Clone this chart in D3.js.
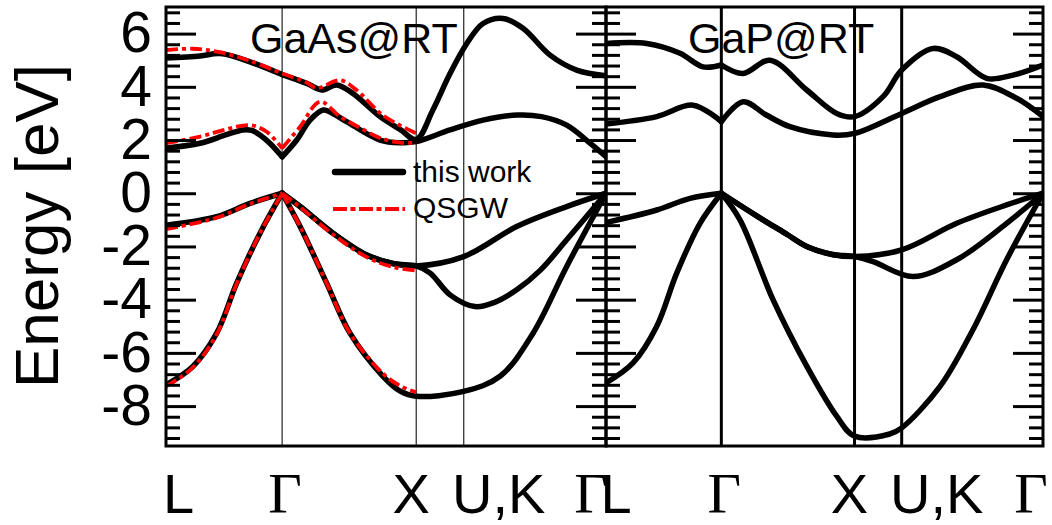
<!DOCTYPE html>
<html>
<head>
<meta charset="utf-8">
<script src="https://cdn.jsdelivr.net/npm/d3@7"></script>
<style>
  body { margin: 0; background: #fff; }
  svg { display: block; }
</style>
</head>
<body>
<svg id="chart" width="1052" height="525"></svg>
<script>
// k-path through the fcc Brillouin zone, in units of 2π/a
const kPoints = [0, 0.866, 1.866, 2.220, 3.281];
const kLabels = ["L", "Γ", "X", "U,K", "Γ"];
const energyTicks = [-8, -6, -4, -2, 0, 2, 4, 6];
const panelTitles = ["GaAs@RT", "GaP@RT"];
const legendLabels = ["this work", "QSGW"];

// GaAs, this work: [k, E (eV)]
const gaasC2 = [[0,5.08],[0.254,5.16],[0.403,5.25],[0.626,4.94],[0.866,4.46],[1.049,4.13],[1.161,3.88],[1.273,4.07],[1.394,3.75],[1.596,2.88],[1.745,2.40],[1.866,2.02],[1.99,3.13],[2.118,4.50],[2.242,5.62],[2.364,6.38],[2.513,6.57],[2.662,6.20],[2.864,5.19],[3.062,4.63],[3.281,4.42]];
const gaasC1 = [[0,1.70],[0.254,1.88],[0.45,2.20],[0.574,2.38],[0.64,2.36],[0.701,2.19],[0.78,1.85],[0.866,1.37],[0.975,2.00],[1.074,2.75],[1.173,3.13],[1.25,2.98],[1.347,2.69],[1.596,2.00],[1.75,1.90],[1.866,1.94],[2.118,2.38],[2.364,2.75],[2.62,2.94],[2.80,2.88],[2.988,2.56],[3.162,1.88],[3.281,1.37]];
const gaasV1 = [[0,-1.20],[0.378,-0.88],[0.626,-0.38],[0.866,0],[1.0,-0.50],[1.245,-1.50],[1.497,-2.32],[1.70,-2.65],[1.866,-2.73],[2.22,-2.38],[2.615,-1.25],[2.988,-0.50],[3.281,0]];
const gaasV2 = [[0.866,0],[1.0,-0.50],[1.245,-1.50],[1.497,-2.32],[1.70,-2.65],[1.866,-2.73],[1.97,-3.00],[2.118,-3.82],[2.304,-4.26],[2.45,-4.10],[2.615,-3.63],[2.79,-2.90],[2.988,-1.75],[3.281,0]];
const gaasV3 = [[0,-7.20],[0.20,-6.51],[0.378,-5.26],[0.527,-3.38],[0.701,-1.50],[0.866,0],[1.0,-1.25],[1.198,-3.38],[1.372,-5.26],[1.618,-6.88],[1.75,-7.45],[1.866,-7.63],[2.22,-7.45],[2.491,-6.88],[2.737,-5.26],[2.988,-2.75],[3.281,0]];

// GaAs, QSGW reference (L-Γ-X only)
const qsgwC2 = [[0,5.38],[0.20,5.43],[0.40,5.30],[0.63,4.97],[0.866,4.50],[1.05,4.16],[1.124,3.95],[1.298,4.25],[1.42,3.88],[1.62,2.92],[1.866,2.25]];
const qsgwC1 = [[0,1.88],[0.254,2.13],[0.45,2.40],[0.626,2.56],[0.751,2.31],[0.866,1.69],[1.0,2.50],[1.148,3.44],[1.298,2.88],[1.45,2.45],[1.60,2.07],[1.75,1.90],[1.866,1.90]];
const qsgwV1 = [[0,-1.35],[0.378,-0.92],[0.626,-0.40],[0.866,0],[1.0,-0.52],[1.245,-1.55],[1.497,-2.40],[1.70,-2.78],[1.866,-2.90]];
const qsgwV3 = [[0,-7.26],[0.20,-6.55],[0.378,-5.30],[0.527,-3.40],[0.701,-1.50],[0.866,0],[1.0,-1.25],[1.198,-3.38],[1.372,-5.26],[1.618,-6.78],[1.75,-7.25],[1.866,-7.48]];

// GaP, this work
const gapC2 = [[0,5.63],[0.306,5.63],[0.556,5.26],[0.728,4.75],[0.866,4.82],[1.029,4.50],[1.231,5.00],[1.507,3.88],[1.732,3.00],[1.866,2.88],[2.08,3.63],[2.22,4.63],[2.455,5.44],[2.633,5.13],[2.858,4.32],[3.056,4.44],[3.281,4.82]];
const gapC1 = [[0,2.60],[0.381,2.88],[0.653,3.31],[0.866,2.69],[1.029,3.44],[1.20,2.95],[1.381,2.50],[1.704,2.19],[1.866,2.25],[2.22,3.00],[2.508,3.63],[2.83,4.07],[3.086,3.56],[3.281,2.88]];
const gapV1 = [[0,-1.10],[0.381,-0.63],[0.631,-0.19],[0.866,0],[1.131,-0.85],[1.36,-1.55],[1.507,-2.00],[1.70,-2.30],[1.866,-2.38],[2.22,-2.13],[2.633,-1.13],[3.008,-0.44],[3.281,0]];
const gapV2 = [[0.866,0],[1.131,-0.85],[1.36,-1.55],[1.507,-2.00],[1.70,-2.30],[1.866,-2.38],[2.005,-2.57],[2.305,-3.13],[2.633,-2.50],[3.008,-1.13],[3.281,0]];
const gapV3 = [[0,-7.13],[0.203,-6.38],[0.381,-5.00],[0.531,-3.00],[0.706,-1.13],[0.866,0],[1.006,-1.00],[1.254,-4.00],[1.507,-6.50],[1.732,-8.38],[1.866,-9.13],[2.13,-9.05],[2.22,-8.82],[2.508,-7.26],[2.755,-5.13],[3.008,-2.50],[3.281,0]];

const sans = "'Liberation Sans', Arial, Helvetica, sans-serif";
const serif = "'Liberation Serif', 'Times New Roman', serif";

const svg = d3.select("#chart");
const y = d3.scaleLinear().domain([-9.5, 7]).range([446, 7]);

const panels = [
  { x0: 166, x1: 606, title: panelTitles[0], titleX: 250,
    bands: [gaasC2, gaasC1, gaasV1, gaasV2, gaasV3],
    ref: [qsgwC2, qsgwC1, qsgwV1, qsgwV3],
    kLine: { color: "#333", width: 1.3 }, labelDx: [12.5, 3, -5, 35, -15] },
  { x0: 606, x1: 1043, title: panelTitles[1], titleX: 688,
    bands: [gapC2, gapC1, gapV1, gapV2, gapV3],
    ref: [],
    kLine: { color: "#000", width: 3 }, labelDx: [10, 3, -5, 35, -12] }
];

// minor ticks every 0.4 eV, majors every 2 eV
const minorTicks = d3.range(-23, 18).map(i => +(i * 0.4).toFixed(1))
  .filter(v => Math.abs(v / 2 - Math.round(v / 2)) > 1e-6);

// a band is drawn as two pieces joined at Γ so the cusps stay sharp
function pieces(band) {
  const g = kPoints[1];
  const a = band.filter(d => d[0] <= g + 1e-9);
  const b = band.filter(d => d[0] >= g - 1e-9);
  return [a, b].filter(p => p.length > 1);
}

panels.forEach((p, i) => {
  const x = d3.scaleLinear().domain([kPoints[0], kPoints[4]]).range([p.x0, p.x1]);
  const g = svg.append("g");

  const clipId = "clip" + i;
  svg.append("clipPath").attr("id", clipId)
    .append("rect").attr("x", p.x0).attr("y", y(7)).attr("width", p.x1 - p.x0).attr("height", y(-9.5) - y(7));

  // high-symmetry lines
  g.selectAll("line.kline").data(kPoints.slice(1, 4)).join("line")
    .attr("x1", d => x(d)).attr("x2", d => x(d))
    .attr("y1", y(7)).attr("y2", y(-9.5))
    .attr("stroke", p.kLine.color).attr("stroke-width", p.kLine.width);

  const line = d3.line().x(d => x(d[0])).y(d => y(d[1])).curve(d3.curveCatmullRom.alpha(0.5));
  const plot = g.append("g").attr("clip-path", `url(#${clipId})`);

  p.bands.forEach(b => {
    pieces(b).forEach(seg => {
      plot.append("path").attr("d", line(seg))
        .attr("fill", "none").attr("stroke", "#000").attr("stroke-width", 5.5)
        .attr("stroke-linecap", "round").attr("stroke-linejoin", "round");
    });
  });
  p.ref.forEach(b => {
    pieces(b).forEach(seg => {
      plot.append("path").attr("d", line(seg))
        .attr("fill", "none").attr("stroke", "#ff0000").attr("stroke-width", 3.8)
        .attr("stroke-dasharray", "12,4,4,4");
    });
  });

  // frame
  g.append("rect").attr("x", p.x0).attr("y", y(7)).attr("width", p.x1 - p.x0).attr("height", y(-9.5) - y(7))
    .attr("fill", "none").attr("stroke", "#000").attr("stroke-width", 3);

  // inward ticks on both vertical edges
  const leftMajor = d3.axisLeft(y).tickValues(energyTicks).tickSize(-30).tickPadding(14)
    .tickFormat(i === 0 ? (d => String(d)) : () => "");
  const leftMinor = d3.axisLeft(y).tickValues(minorTicks).tickSize(-14).tickFormat(() => "");
  const rightMajor = d3.axisRight(y).tickValues(energyTicks).tickSize(-30).tickFormat(() => "");
  const rightMinor = d3.axisRight(y).tickValues(minorTicks).tickSize(-14).tickFormat(() => "");

  [[leftMajor, p.x0], [leftMinor, p.x0], [rightMajor, p.x1], [rightMinor, p.x1]].forEach(([ax, xx]) => {
    const a = g.append("g").attr("transform", `translate(${xx},0)`).call(ax);
    a.select(".domain").remove();
    a.selectAll(".tick line").attr("stroke", "#000").attr("stroke-width", 3);
    a.selectAll(".tick text").attr("font-family", sans).attr("font-size", 57).attr("fill", "#000");
  });

  // panel title
  g.append("text").attr("x", p.titleX).attr("y", 53)
    .attr("font-family", sans).attr("font-size", 43).attr("fill", "#000").text(p.title);

  // k-point labels
  g.selectAll("text.klabel").data(kLabels).join("text")
    .attr("x", (d, j) => x(kPoints[j]) + p.labelDx[j]).attr("y", 513)
    .attr("text-anchor", "middle")
    .attr("font-family", d => d === "Γ" ? serif : sans)
    .attr("font-size", d => d === "Γ" ? 58 : 56)
    .attr("fill", "#000").text(d => d);
});

// legend
const leg = svg.append("g");
leg.append("line").attr("x1", 335).attr("x2", 403).attr("y1", 172).attr("y2", 172)
  .attr("stroke", "#000").attr("stroke-width", 6.5).attr("stroke-linecap", "round");
leg.append("line").attr("x1", 333).attr("x2", 405).attr("y1", 209).attr("y2", 209)
  .attr("stroke", "#ff0000").attr("stroke-width", 3.8).attr("stroke-dasharray", "14,3.5,5,3.5");
leg.selectAll("text").data(legendLabels).join("text")
  .attr("x", 413).attr("y", (d, i) => i === 0 ? 182 : 218)
  .attr("font-family", sans).attr("font-size", 30).attr("fill", "#000").text(d => d);

// y-axis title
svg.append("text").attr("transform", "translate(58,226) rotate(-90)")
  .attr("text-anchor", "middle").attr("font-family", sans).attr("font-size", 62)
  .attr("fill", "#000").text("Energy [eV]");
</script>
</body>
</html>
